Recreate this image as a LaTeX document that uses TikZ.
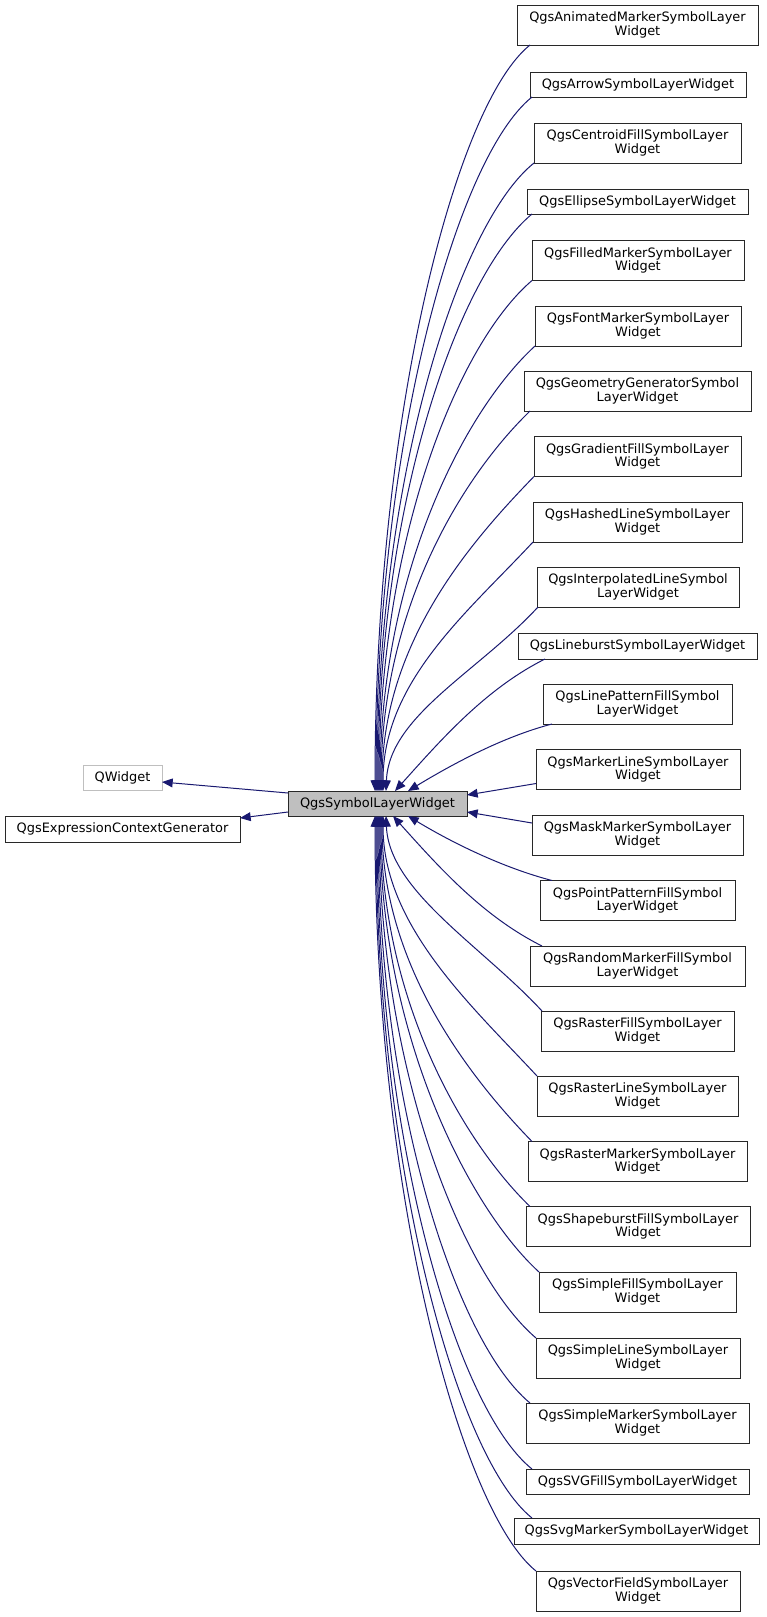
\documentclass[tikz,border=0pt]{standalone}
\usepackage{fontspec}
\setmainfont{DejaVu Sans}
\usetikzlibrary{arrows.meta,calc}
\definecolor{navy}{RGB}{25,25,112}
\definecolor{boxline}{RGB}{40,40,40}
\definecolor{grayfill}{RGB}{191,191,191}
\definecolor{lightline}{RGB}{191,191,191}
\newcommand\upin[5]{\draw[edge] ($(#1.south west)+(#2,0)$) .. controls ($(#1.south west)+(#2,0)+(#4)$) and ($(par.north west)+(#3,0)+(#5)$) .. ($(par.north west)+(#3,0)$);}
\newcommand\lowin[5]{\draw[edge] ($(#1.north west)+(#2,0)$) .. controls ($(#1.north west)+(#2,0)+(#4)$) and ($(par.south west)+(#3,0)+(#5)$) .. ($(par.south west)+(#3,0)$);}
\begin{document}
\begin{tikzpicture}[x=0.75pt,y=-0.75pt,
  cls/.style={draw=boxline, line width=0.75pt, inner sep=0pt, outer sep=0pt, align=center,
    font=\fontsize{9.7}{10}\selectfont, fill=white},
  two/.style={cls, minimum height=30pt},
  one/.style={cls, minimum height=18.75pt},
  edge/.style={draw=navy, line width=0.75pt, -{Triangle[length=8pt,width=6.6pt]}}]
\useasboundingbox (0,0) rectangle (767,1617);

\node[one, fill=grayfill, minimum width=134.25pt] (par) at (377.5,803.5) {QgsSymbolLayerWidget};
\node[one, draw=lightline, minimum width=59.25pt] (qw) at (122.5,777.5) {QWidget};
\node[cls, minimum height=19.5pt, minimum width=176.25pt] (ecg) at (122.5,829) {QgsExpressionContextGenerator};

\node[two, minimum width=180.75pt] (anim) at (637.5,25) {QgsAnimatedMarkerSymbolLayer\\Widget};
\node[one, minimum width=162pt] (arrow) at (638,84.5) {QgsArrowSymbolLayerWidget};
\node[two, minimum width=155.25pt] (centroid) at (637.5,143) {QgsCentroidFillSymbolLayer\\Widget};
\node[one, minimum width=165.75pt] (ellipse) at (637.5,201.5) {QgsEllipseSymbolLayerWidget};
\node[two, minimum width=159pt] (filled) at (638,260.5) {QgsFilledMarkerSymbolLayer\\Widget};
\node[two, minimum width=154.5pt] (font) at (638,326) {QgsFontMarkerSymbolLayer\\Widget};
\node[two, minimum width=170.25pt] (geometry) at (637.5,391) {QgsGeometryGeneratorSymbol\\LayerWidget};
\node[two, minimum width=155.25pt] (gradient) at (637.5,456.5) {QgsGradientFillSymbolLayer\\Widget};
\node[two, minimum width=156.75pt] (hashed) at (637.5,522) {QgsHashedLineSymbolLayer\\Widget};
\node[two, minimum width=151.5pt] (interp) at (638,587) {QgsInterpolatedLineSymbol\\LayerWidget};
\node[cls, minimum height=19.5pt, minimum width=179.25pt] (lineburst) at (637.5,646) {QgsLineburstSymbolLayerWidget};
\node[two, minimum width=141.75pt] (linepattern) at (637.5,704) {QgsLinePatternFillSymbol\\LayerWidget};
\node[two, minimum width=153pt] (markerline) at (638,769.5) {QgsMarkerLineSymbolLayer\\Widget};
\node[two, minimum width=158.25pt] (mask) at (637.5,835) {QgsMaskMarkerSymbolLayer\\Widget};
\node[two, minimum width=146.25pt] (pointpattern) at (637.5,900.5) {QgsPointPatternFillSymbol\\LayerWidget};
\node[two, minimum width=161.25pt] (random) at (637.5,966) {QgsRandomMarkerFillSymbol\\LayerWidget};
\node[two, minimum width=144.75pt] (rasterfill) at (637.5,1031) {QgsRasterFillSymbolLayer\\Widget};
\node[two, minimum width=150.75pt] (rasterline) at (637.5,1096) {QgsRasterLineSymbolLayer\\Widget};
\node[two, minimum width=164.25pt] (rastermarker) at (637.5,1161.5) {QgsRasterMarkerSymbolLayer\\Widget};
\node[two, minimum width=168pt] (shapeburst) at (638,1226.5) {QgsShapeburstFillSymbolLayer\\Widget};
\node[two, minimum width=147.75pt] (simplefill) at (637.5,1292) {QgsSimpleFillSymbolLayer\\Widget};
\node[two, minimum width=153pt] (simpleline) at (638,1358) {QgsSimpleLineSymbolLayer\\Widget};
\node[two, minimum width=167.25pt] (simplemarker) at (637.5,1423) {QgsSimpleMarkerSymbolLayer\\Widget};
\node[one, minimum width=167.25pt] (svgfill) at (637.5,1481.5) {QgsSVGFillSymbolLayerWidget};
\node[cls, minimum height=19.5pt, minimum width=183.75pt] (svgmarker) at (636.5,1531) {QgsSvgMarkerSymbolLayerWidget};
\node[two, minimum width=153pt] (vectorfield) at (638,1591) {QgsVectorFieldSymbolLayer\\Widget};

% base classes
\draw[edge] ($(par.north west)+(0,2)$) -- ($(qw.east)+(0,4.5)$);
\draw[edge] ($(par.south west)+(0,-4)$) -- ($(ecg.north east)+(0,2)$);

% upper derived classes
\upin{anim}{13}{87}{-75,60}{0,-373}
\upin{arrow}{2}{88}{-75,60}{0,-347}
\upin{centroid}{0}{89}{-75,60}{0,-314}
\upin{ellipse}{5}{90}{-75,62}{0,-285}
\upin{filled}{0}{91}{-75,64}{0,-250}
\upin{font}{0}{92}{-72,66}{0,-215}
\upin{geometry}{6}{93}{-70,68}{0,-180}
\upin{gradient}{0}{94}{-68,70}{0,-145}
\upin{hashed}{0}{95}{-65,70}{0,-110}
\upin{interp}{1}{98}{-60,65}{3,-75}
\upin{lineburst}{27}{107}{-60,30}{45,-50}
\upin{linepattern}{9}{120}{-50,13}{43,-26}
\draw[edge] ($(markerline.south west)+(0,-6)$) -- ($(par.north east)+(0,4)$);
\draw[edge] ($(mask.north west)+(0,8)$) -- ($(par.south east)+(0,-4)$);

% lower derived classes
\lowin{pointpattern}{12}{120}{-50,-13}{43,26}
\lowin{random}{12}{105}{-60,-30}{45,50}
\lowin{rasterfill}{1}{98}{-60,-65}{3,75}
\lowin{rasterline}{0}{95}{-65,-70}{0,110}
\lowin{rastermarker}{4}{94}{-68,-70}{0,145}
\lowin{shapeburst}{4}{93}{-70,-68}{0,180}
\lowin{simplefill}{0}{92}{-72,-66}{0,215}
\lowin{simpleline}{0}{91}{-75,-64}{0,250}
\lowin{simplemarker}{4}{90}{-75,-62}{0,285}
\lowin{svgfill}{6}{89}{-75,-60}{0,326}
\lowin{svgmarker}{18}{88}{-75,-60}{0,351}
\lowin{vectorfield}{0}{87}{-75,-60}{0,377}
\end{tikzpicture}
\end{document}
